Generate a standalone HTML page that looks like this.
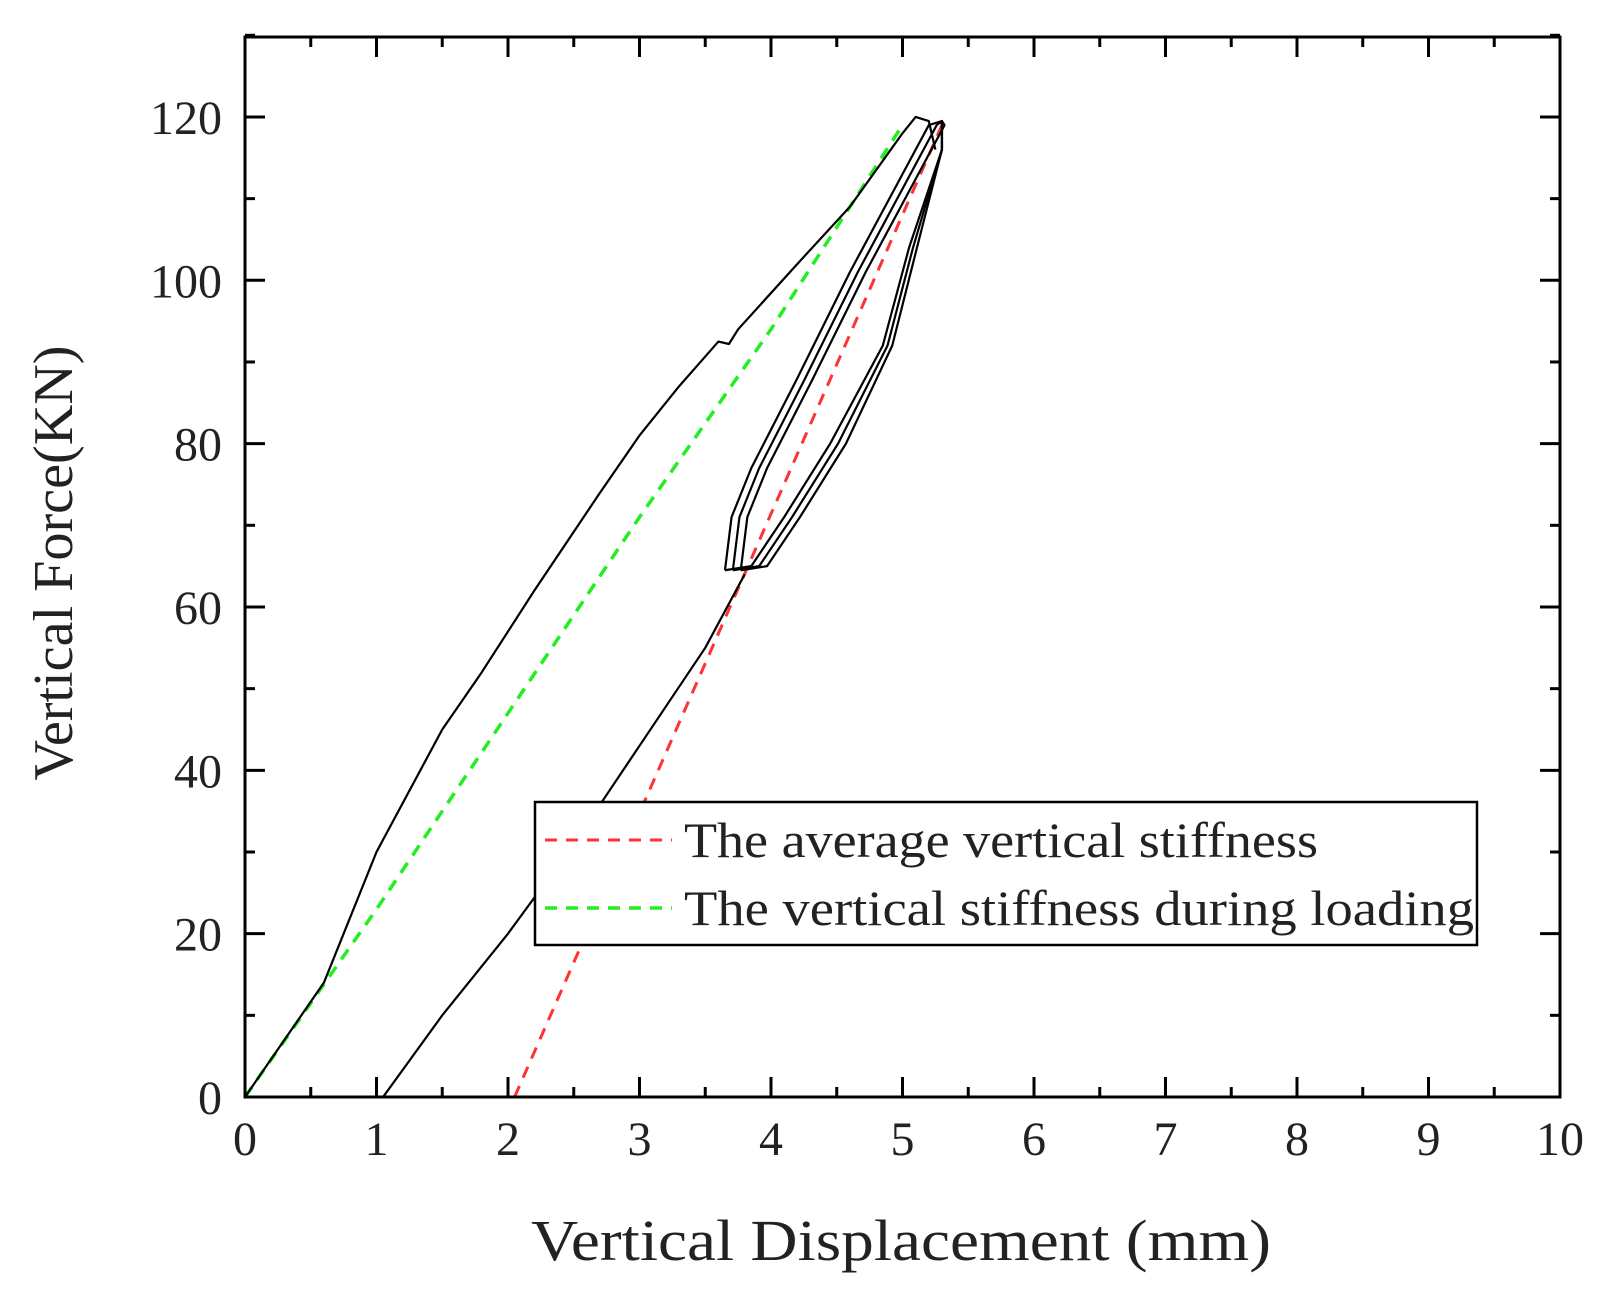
<!DOCTYPE html>
<html><head><meta charset="utf-8"><style>body{margin:0;background:#fff}svg{display:block}</style></head><body>
<svg width="1610" height="1302" viewBox="0 0 1610 1302" xmlns="http://www.w3.org/2000/svg" font-family="Liberation Serif, serif">
<g id="plot"></g>
<rect x="245" y="37" width="1315" height="1060" fill="none" stroke="#000" stroke-width="3"/>
<g id="ticks" stroke="#000" stroke-width="3"></g>
<g font-size="48" fill="#222" id="labels"></g>
<text x="901" y="1260" font-size="58" text-anchor="middle" fill="#222" textLength="740" lengthAdjust="spacingAndGlyphs">Vertical Displacement (mm)</text>
<text transform="translate(72,563) rotate(-90)" font-size="56" text-anchor="middle" fill="#222" textLength="435" lengthAdjust="spacingAndGlyphs">Vertical Force(KN)</text>
<rect x="535" y="802" width="942" height="143" fill="#fff" stroke="#000" stroke-width="2.5"/>
<line x1="545" y1="840" x2="672" y2="840" stroke="#f33" stroke-width="3" stroke-dasharray="12,9"/>
<line x1="545" y1="908" x2="672" y2="908" stroke="#2e2" stroke-width="3.5" stroke-dasharray="12,9"/>
<text x="684" y="857" font-size="50" fill="#222" textLength="634" lengthAdjust="spacingAndGlyphs">The average vertical stiffness</text>
<text x="684" y="925" font-size="50" fill="#222" textLength="790" lengthAdjust="spacingAndGlyphs">The vertical stiffness during loading</text>
<script>
const X=x=>245+x*131.5,Y=y=>1097-y*8.167,ns="http://www.w3.org/2000/svg";
function pl(pts,attrs,parent){const p=document.createElementNS(ns,"polyline");p.setAttribute("points",pts.map(q=>X(q[0])+","+Y(q[1])).join(" "));p.setAttribute("fill","none");p.setAttribute("stroke-linejoin","round");for(const k in attrs)p.setAttribute(k,attrs[k]);(parent||document.getElementById("plot")).appendChild(p);}
const blk={stroke:"#000","stroke-width":2.2};
pl([[0,0],[1,23],[2,47],[3,71],[4,94],[5,119]],{stroke:"#2e2","stroke-width":3.5,"stroke-dasharray":"12,9"});
pl([[2.05,0],[5.3,119]],{stroke:"#f33","stroke-width":3,"stroke-dasharray":"12,9"});
pl([[0,0],[0.6,14],[1,30],[1.5,45],[1.8,52],[2.2,62],[2.7,74],[3.0,81],[3.3,87],[3.6,92.5],[3.68,92.2],[3.75,94],[4.2,102],[4.6,109],[5.0,118],[5.1,120],[5.2,119.5],[5.25,116]],blk);
pl([[1.05,0],[1.5,10],[2,20],[2.5,31],[3,43],[3.5,55],[3.8,64]],blk);
for(let i=0;i<3;i++){const d=i*0.06;
pl([[3.65+d,64.5],[3.7+d,71],[3.85+d,77],[4.2+d,88],[4.6+d,101],[5.0+d,113],[5.2+d,119],[5.3,119.5],[5.3,116],[5.05+d*0.5,104],[4.85+d*0.6,92],[4.45+d,80],[4.1+d,71],[3.85+d,65],[3.65+d,64.5]],blk);}
const t=document.getElementById("ticks"),lb=document.getElementById("labels");
function ln(a,b,c,d){const l=document.createElementNS(ns,"line");l.setAttribute("x1",a);l.setAttribute("y1",b);l.setAttribute("x2",c);l.setAttribute("y2",d);t.appendChild(l);}
function tx(s,x,y,anc){const e=document.createElementNS(ns,"text");e.setAttribute("x",x);e.setAttribute("y",y);e.setAttribute("text-anchor",anc);e.textContent=s;lb.appendChild(e);}
for(let i=0;i<=20;i++){const x=X(i/2),L=i%2?10:20;ln(x,1097,x,1097-L);ln(x,37,x,37+L);if(i%2==0)tx(String(i/2),x,1155,"middle");}
for(let v=0;v<=130;v+=10){const y=Y(v),L=v%20?10:20;ln(245,y,245+L,y);ln(1560,y,1560-L,y);if(v%20==0)tx(String(v),222,y+17,"end");}
</script>
</svg>
</body></html>
